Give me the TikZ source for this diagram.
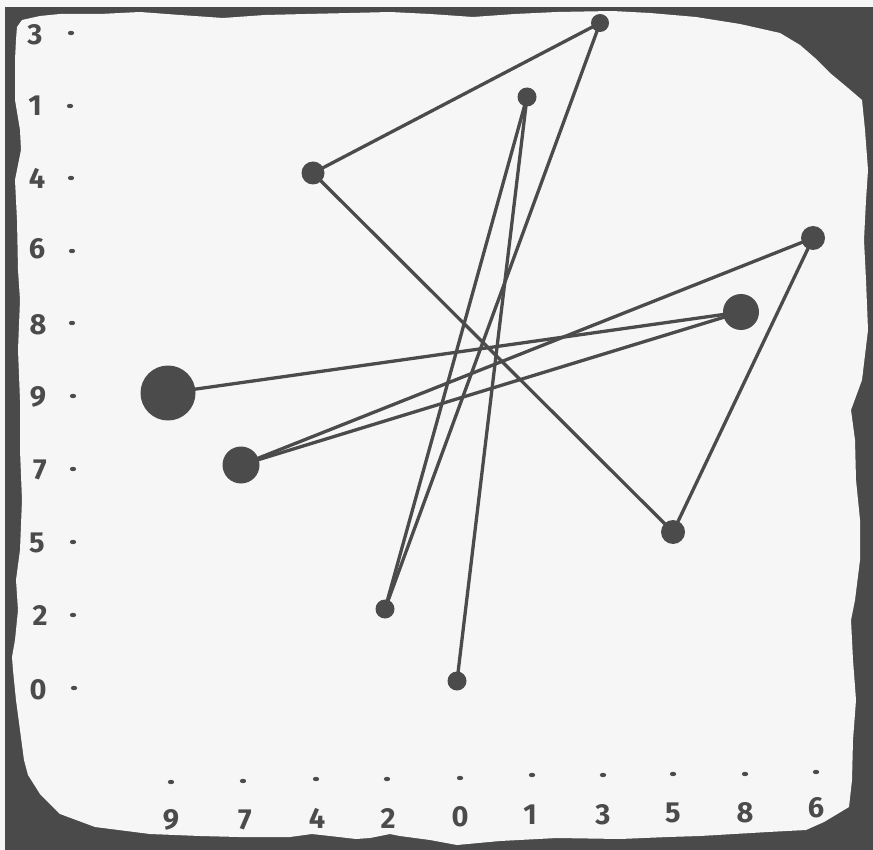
\documentclass[tikz,border=0pt]{standalone}
\usepackage{fontspec}
\setmainfont{Fira Sans}
\definecolor{ink}{HTML}{4B4B4B}
\definecolor{frame}{HTML}{4A4A4A}
\definecolor{paper}{HTML}{F6F6F6}
\begin{document}
\begin{tikzpicture}[x=1pt,y=-1pt,
  gdot/.style={circle,fill=ink,draw=none,inner sep=0pt},
  edge/.style={draw=ink,line width=3.3pt},
  lab/.style={text=ink,inner sep=0pt,font=\fontsize{29}{29}\selectfont\bfseries}]
\useasboundingbox (0,0) rectangle (873,850);
\fill[paper] (0,0) rectangle (873,850);
\fill[frame] (5,7) rectangle (873,850);
% white torn sheet
\fill[paper] (17,27) -- (22,20) -- (40,16) -- (60,14) -- (100,14) -- (140,12) -- (180,15) -- (223,18) -- (265,15) -- (306,14) -- (350,13) -- (390,12) -- (430,14) -- (473,17) -- (515,14) -- (557,12) -- (612,11) -- (650,13) -- (696,17) -- (740,24) -- (780,33) -- (800,45) -- (815,58) -- (830,73) -- (848,88) -- (862,100) -- (865,130) -- (868,170) -- (866,200) -- (864,240) -- (866,280) -- (868,330) -- (862,380) -- (851,410) -- (855,440) -- (856,480) -- (860,520) -- (860,560) -- (855,600) -- (851,620) -- (853,660) -- (856,700) -- (853,740) -- (852,780) -- (849,807) -- (824,822) -- (806,830) -- (768,832) -- (700,836) -- (668,837) -- (620,839) -- (557,838) -- (500,841) -- (457,845) -- (430,840) -- (400,836) -- (390,834) -- (370,838) -- (356,839) -- (330,836) -- (312,834) -- (290,837) -- (239,837) -- (200,836) -- (150,834) -- (95,827) -- (60,814) -- (40,794) -- (28,775) -- (24,760) -- (20,730) -- (16,700) -- (13,670) -- (12,657) -- (15,640) -- (18,610) -- (16,580) -- (20,550) -- (22,500) -- (20,450) -- (20,400) -- (18,350) -- (20,300) -- (18,270) -- (17,220) -- (15,180) -- (21,150) -- (20,130) -- (15,100) -- (15,60) -- (16,40) -- cycle;
% left column labels and dots
\foreach \d/\lx/\ly/\dx/\dy in {3/35/35/71/33, 1/35/106/70/106, 4/37/178/71/178, 6/37/249/72/251, 8/38/325/72/323, 9/38/397/73/396, 7/40/470/73/469, 5/37/543/73/542, 2/40/615/73/615, 0/38/690/74/688}{
  \node[lab] (L\d) at (\lx,\ly) {\d};
  \fill[ink] (\dx,\dy) ellipse [x radius=3.2pt, y radius=2.2pt];
}
% bottom row labels and dots
\foreach \d/\lx/\ly/\dx/\dy in {9/171/820/171/782, 7/245/820/243/781, 4/317/818/316/779, 2/388/818/387/779, 0/460/817/460/778, 1/530/815/532/775, 3/603/815/603/775, 5/673/813/673/774, 8/745/813/745/774, 6/816/808/816/772}{
  \node[lab] (B\d) at (\lx,\ly) {\d};
  \fill[ink] (\dx,\dy) ellipse [x radius=3.2pt, y radius=2.2pt];
}
% graph nodes
\node[gdot,minimum size=18pt] (g3) at (600,23) {};
\node[gdot,minimum size=19pt] (g1) at (527,97) {};
\node[gdot,minimum size=23pt] (g4) at (313,173) {};
\node[gdot,minimum size=24pt] (g6) at (813,238) {};
\node[gdot,minimum size=36pt] (g8) at (741,312) {};
\node[gdot,minimum size=55pt] (g9) at (168,393) {};
\node[gdot,minimum size=37pt] (g7) at (241,465) {};
\node[gdot,minimum size=24pt] (g5) at (673,532) {};
\node[gdot,minimum size=19pt] (g2) at (385,609) {};
\node[gdot,minimum size=19pt] (g0) at (457,681) {};
% connectors
\draw[edge] (g9.center) -- (g8.center);
\draw[edge] (g8.center) -- (g7.center);
\draw[edge] (g7.center) -- (g6.center);
\draw[edge] (g6.center) -- (g5.center);
\draw[edge] (g5.center) -- (g4.center);
\draw[edge] (g4.center) -- (g3.center);
\draw[edge] (g3.center) -- (g2.center);
\draw[edge] (g2.center) -- (g1.center);
\draw[edge] (g1.center) -- (g0.center);
\end{tikzpicture}
\end{document}
